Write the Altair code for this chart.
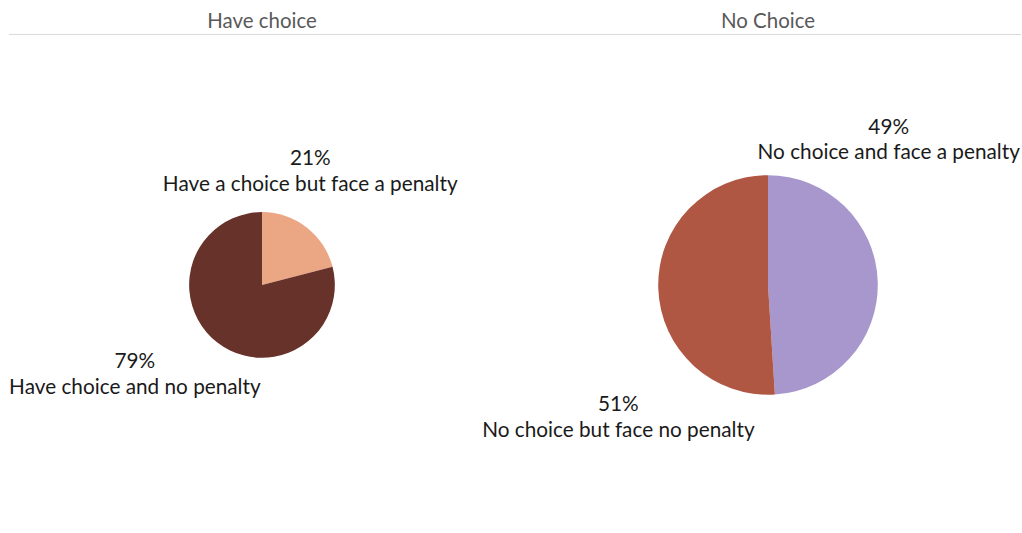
import altair as alt
import pandas as pd

panel_titles = ["Have choice", "No Choice"]
left_labels = ["Have a choice but face a penalty", "Have choice and no penalty"]
left_values = [21, 79]
left_colors = ["#EBA784", "#673229"]
right_labels = ["No choice and face a penalty", "No choice but face no penalty"]
right_values = [49, 51]
right_colors = ["#A897CC", "#B05744"]

FONT = "Lato"
PANEL_W = 507
PANEL_H = 484


def make_df(labels, values):
    return pd.DataFrame({
        "label": labels,
        "value": values,
        "order": list(range(len(labels))),
        "text": [f"{v}%\n{l}" for l, v in zip(labels, values)],
    })


def panel(title, labels, values, colors, outer, text_r, offsets):
    df = make_df(labels, values)
    base = alt.Chart(df)
    pie = base.mark_arc(outerRadius=outer).encode(
        theta=alt.Theta("value:Q", stack=True),
        order=alt.Order("order:Q"),
        color=alt.Color("label:N", scale=alt.Scale(domain=labels, range=colors), legend=None),
    )
    layers = [pie]
    stacked = base.transform_stack(
        stack="value", groupby=[], as_=["v0", "v1"], sort=[alt.SortField("order")]
    ).transform_calculate(mid="(datum.v0 + datum.v1) / 2")
    for lab, (dx, dy) in zip(labels, offsets):
        layers.append(
            stacked.transform_filter(alt.datum.label == lab)
            .mark_text(radius=text_r, dx=dx, dy=dy, lineBreak="\n", fontSize=20.8,
                       font=FONT, color="#1a1a1a", align="center", baseline="middle",
                       lineHeight=26)
            .encode(theta=alt.Theta("mid:Q", stack=None), text="text:N")
        )
    rule = base.transform_filter(alt.datum.order == 0).mark_rule(
        color="#d9d9d9", strokeWidth=1
    ).encode(x=alt.value(0), x2=alt.value(PANEL_W), y=alt.value(-9))
    layers.append(rule)
    return alt.layer(*layers).properties(
        width=PANEL_W, height=PANEL_H,
        title=alt.TitleParams(title, fontSize=20.5, font=FONT, fontWeight="normal",
                              color="#595959", anchor="middle", offset=1),
    )


left = panel(panel_titles[0], left_labels, left_values, left_colors, 73, 105,
             [(-16, -43), (-63, -6)])
right = panel(panel_titles[1], right_labels, right_values, right_colors, 110, 150,
              [(-29, -153), (0, 116)])

chart = alt.hconcat(left, right, spacing=0, bounds="flush").resolve_scale(
    color="independent", theta="independent"
).properties(
    padding={"left": 8, "top": 12, "right": 0, "bottom": 0}
).configure(background="white", view=alt.ViewConfig(strokeWidth=0))

chart.save("out.html", embed_options={"renderer": "svg", "actions": False})
